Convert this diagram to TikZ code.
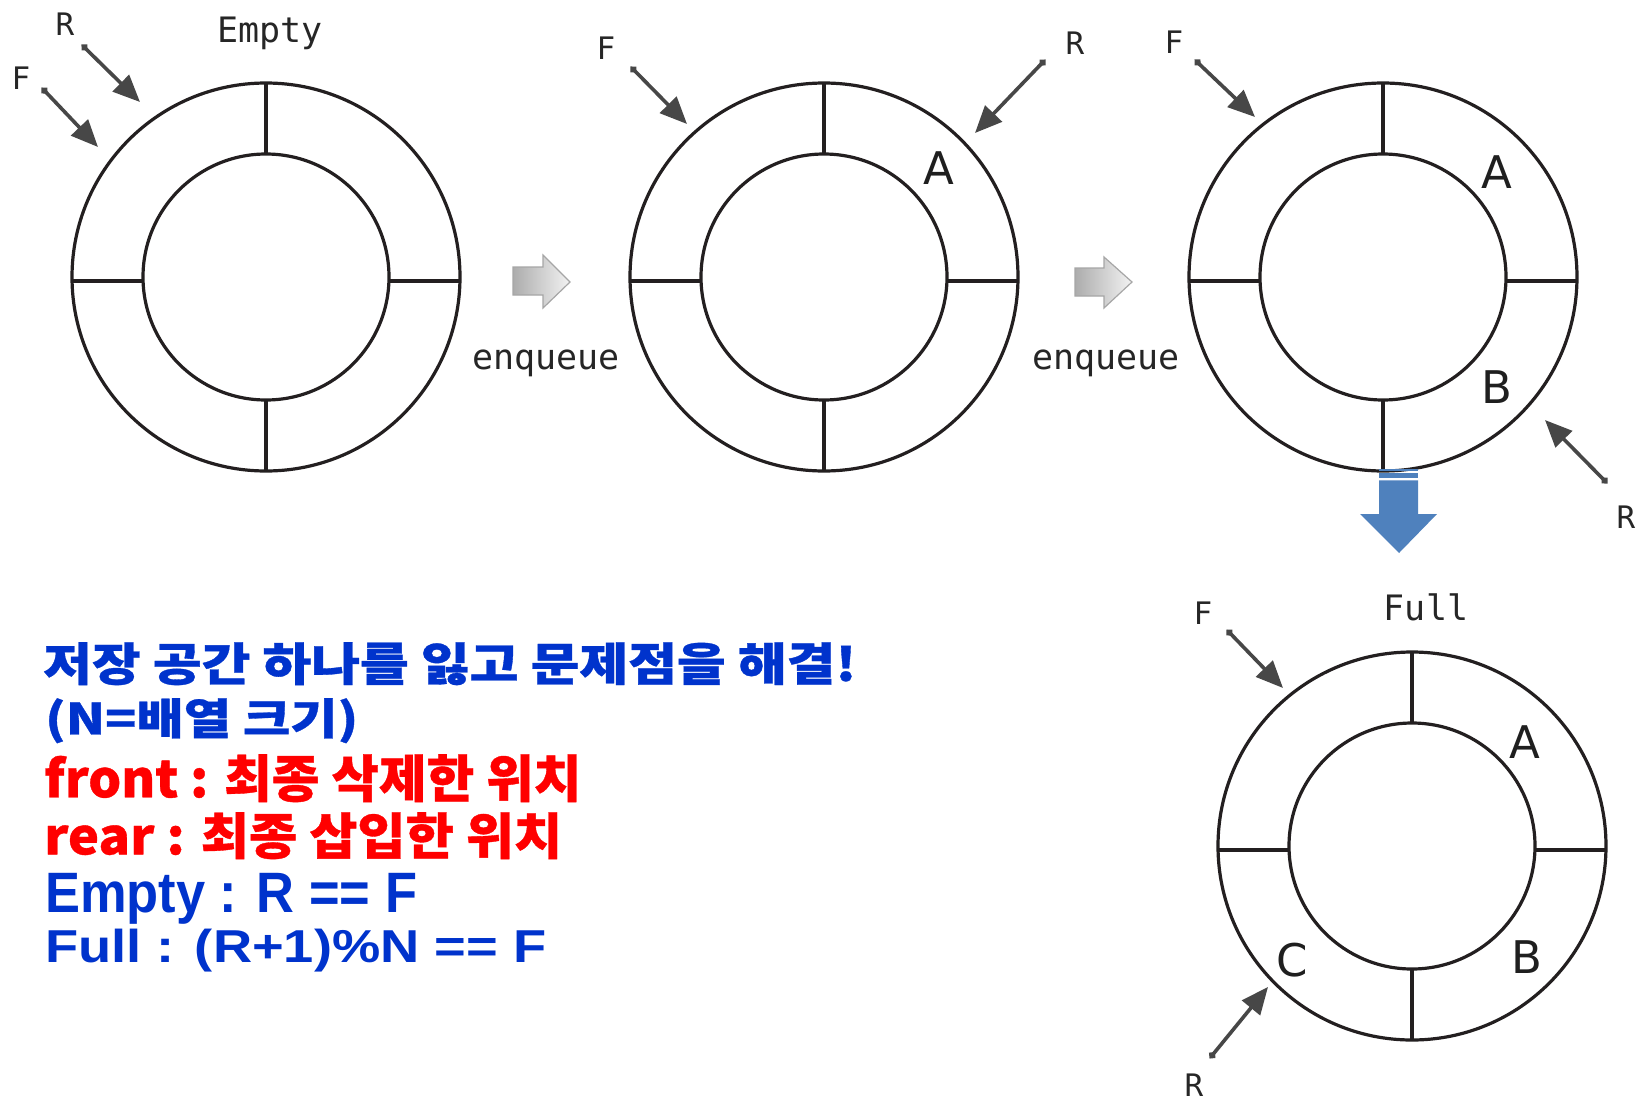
\documentclass[tikz,border=0pt]{standalone}
\usepackage{fontspec}
\usepackage{graphicx}
\usetikzlibrary{arrows.meta}
\newfontfamily\monofnt{DejaVu Sans Mono}
\newfontfamily\labfnt{DejaVu Sans}
\newfontfamily\krfnt{Noto Sans CJK KR}[BoldFeatures={FakeBold=0.7}]
\newfontfamily\arfnt{Liberation Sans}
\definecolor{ringc}{HTML}{231F20}
\definecolor{ptrc}{HTML}{474747}
\definecolor{txtblue}{HTML}{0033CC}
\definecolor{txtred}{HTML}{FF0000}
\definecolor{downblue}{HTML}{4F81BD}
\newcommand\myring[2]{%
  \node[ringout] (#1o) at (#2) {};
  \node[ringin] (#1i) at (#2) {};
  \draw[divider] (#1i.north) -- (#1o.north)
                 (#1i.south) -- (#1o.south)
                 ([yshift=-4pt]#1i.east) -- ([yshift=-4pt]#1o.east)
                 ([yshift=-4pt]#1i.west) -- ([yshift=-4pt]#1o.west);
}
\newcommand\mypointer[5]{%
  \coordinate (#1t) at (#2,#3);
  \coordinate (#1h) at (#4,#5);
  \draw[ptr] (#1t) -- (#1h);
}
\begin{document}
\begin{tikzpicture}[x=1pt,y=-1pt,
  ringout/.style={circle, draw=ringc, line width=3.2pt, minimum size=388pt, inner sep=0pt, outer sep=0pt},
  ringin/.style={circle, draw=ringc, line width=3.2pt, minimum size=246pt, inner sep=0pt, outer sep=0pt},
  divider/.style={draw=ringc, line width=3.2pt},
  ptr/.style={draw=ptrc, line width=3.6pt, {Circle[length=7pt]}-{Triangle[length=27pt,width=23pt]}},
  ptrlab/.style={font=\monofnt\fontsize{31}{31}\selectfont, text=black!85, inner sep=0pt},
  stlab/.style={font=\monofnt\fontsize{35}{35}\selectfont, text=black!85, inner sep=0pt, anchor=base},
  cell/.style={font=\labfnt\fontsize{45}{45}\selectfont, text=black!88, inner sep=0pt},
  txtline/.style={anchor=north west, inner sep=0pt},
  grayarrow/.style={left color=gray!65, right color=gray!10, draw=gray!70, line width=1.2pt},
]
\fill[white] (0,0) rectangle (1647,1101);
\useasboundingbox (0,0) rectangle (1647,1101);

% rings
\myring{ca}{266,277}
\myring{cb}{824,277}
\myring{cc}{1383,277}
\myring{cd}{1412,846}

% state labels
\node[stlab] (lempty) at (270,42) {Empty};
\node[stlab] (lfull) at (1426,620) {Full};
\node[stlab] (enq1) at (546,369) {enqueue};
\node[stlab] (enq2) at (1106,369) {enqueue};

% pointers
\mypointer{paR}{82}{45}{140}{102}
\mypointer{paF}{42}{88}{98}{147}
\mypointer{pbF}{631}{67}{687}{124}
\mypointer{pbR}{1045}{60}{975}{133}
\mypointer{pcF}{1195}{60}{1255}{117}
\mypointer{pcR}{1607}{483}{1545}{420}
\mypointer{pdF}{1227}{630}{1283}{688}
\mypointer{pdR}{1210}{1058}{1268}{987}

% pointer labels
\node[ptrlab] (laR) at (65,24) {R};
\node[ptrlab] (laF) at (21,78) {F};
\node[ptrlab] (lbF) at (606,48) {F};
\node[ptrlab] (lbR) at (1075,43) {R};
\node[ptrlab] (lcF) at (1174,42) {F};
\node[ptrlab] (lcR) at (1626,517) {R};
\node[ptrlab] (ldF) at (1203,613) {F};
\node[ptrlab] (ldR) at (1194,1085) {R};

% cell contents
\node[cell] (bA) at (939,168) {A};
\node[cell] (cA) at (1497,172) {A};
\node[cell] (cB) at (1497,387) {B};
\node[cell] (dA) at (1525,742) {A};
\node[cell] (dB) at (1527,957) {B};
\node[cell] (dC) at (1292,960) {C};

% gray enqueue arrows
\shade[grayarrow] (513,267) -- (543,267) -- (543,255) -- (570,282) -- (543,308) -- (543,295) -- (513,295) -- cycle;
\shade[grayarrow] (1075,268) -- (1104,268) -- (1104,257) -- (1132,282) -- (1104,308) -- (1104,296) -- (1075,296) -- cycle;

% blue down arrow
\fill[downblue] (1379,469) rectangle (1418,471);
\fill[downblue] (1379,473.3) rectangle (1418,478.3);
\fill[downblue] (1379,480.3) -- (1418,480.3) -- (1418,514) -- (1437,514) -- (1399,553) -- (1360,514) -- (1379,514) -- cycle;

% text block
\node[txtline] (t1) at (43,642) {\resizebox*{813pt}{43pt}{\krfnt\bfseries\color{txtblue}저장 공간 하나를 잃고 문제점을 해결!}};
\node[txtline] (t2) at (45,698) {\resizebox*{313pt}{45pt}{\krfnt\bfseries\color{txtblue}(N=배열 크기)}};
\node[txtline] (t3) at (44,754) {\resizebox*{537pt}{48pt}{\krfnt\bfseries\color{txtred}front : 최종 삭제한 위치}};
\node[txtline] (t4) at (44,812) {\resizebox*{518pt}{47pt}{\krfnt\bfseries\color{txtred}rear : 최종 삽입한 위치}};
\node[txtline] (t5) at (45,873) {\resizebox*{372pt}{51pt}{\arfnt\bfseries\color{txtblue}Empty : R == F}};
\node[txtline] (t6) at (45,929) {\resizebox*{501pt}{43pt}{\arfnt\bfseries\color{txtblue}Full : (R+1)\%N == F}};
\end{tikzpicture}
\end{document}
